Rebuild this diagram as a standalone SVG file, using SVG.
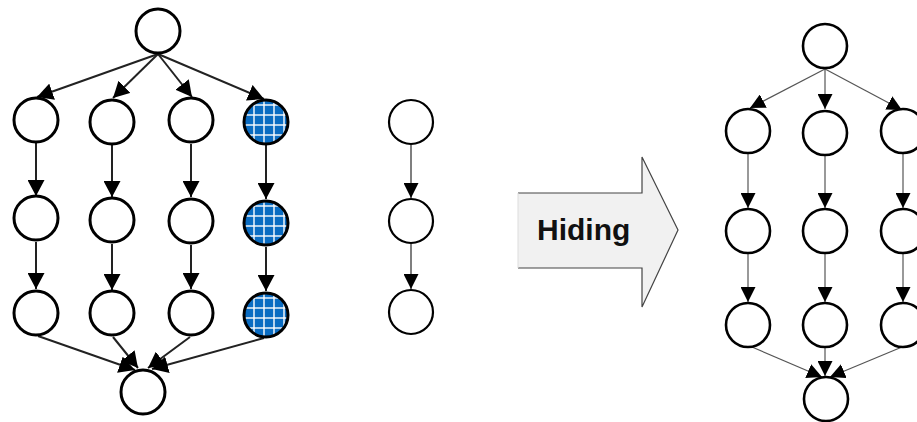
<svg xmlns="http://www.w3.org/2000/svg" width="917" height="422" viewBox="0 0 917 422">
<style>
.nA{fill:#fff;stroke:#000;stroke-width:3}
.nB{fill:url(#grid);stroke:#000;stroke-width:3}
.nM{fill:#fff;stroke:#000;stroke-width:2.2}
.nR{fill:#fff;stroke:#000;stroke-width:2.6}
.eA{stroke:#222;stroke-width:2;fill:none;marker-end:url(#hA)}
.eM{stroke:#555;stroke-width:1.5;fill:none;marker-end:url(#hM)}
.eR{stroke:#555;stroke-width:1.2;fill:none;marker-end:url(#hM)}
.lbl{font-family:"Liberation Sans",Arial,sans-serif;font-weight:bold;font-size:30px;fill:#111}
</style>
<defs>
<pattern id="grid" patternUnits="userSpaceOnUse" width="10" height="10">
<rect width="10" height="10" fill="#0a6cc2"/>
<line x1="8" y1="0" x2="8" y2="10" stroke="#fff" stroke-width="1.4"/>
<line x1="0" y1="3" x2="10" y2="3" stroke="#fff" stroke-width="1.4"/>
</pattern>
<marker id="hA" markerUnits="userSpaceOnUse" markerWidth="17" markerHeight="17" refX="16" refY="8.5" orient="auto">
<path d="M0,0 L16,8.5 L0,17 z" fill="#000"/>
</marker>
<marker id="hM" markerUnits="userSpaceOnUse" markerWidth="15" markerHeight="15" refX="15" refY="7.5" orient="auto">
<path d="M0,0 L15,7.5 L0,15 z" fill="#000"/>
</marker>
</defs>

<g id="connectors">
<!-- left graph -->
<line class="eA" x1="158" y1="54" x2="37" y2="97"/>
<line class="eA" x1="158" y1="54" x2="113" y2="98"/>
<line class="eA" x1="158" y1="54" x2="192" y2="97"/>
<line class="eA" x1="158" y1="54" x2="264" y2="99"/>
<line class="eA" x1="36" y1="143" x2="36" y2="196"/>
<line class="eA" x1="36" y1="242" x2="36" y2="289"/>
<line class="eA" x1="112" y1="145" x2="112" y2="197"/>
<line class="eA" x1="112" y1="244" x2="112" y2="290"/>
<line class="eA" x1="191" y1="144" x2="191" y2="197"/>
<line class="eA" x1="191" y1="245" x2="191" y2="289"/>
<line class="eA" x1="266" y1="145" x2="266" y2="199"/>
<line class="eA" x1="266" y1="247" x2="266" y2="291"/>
<line class="eA" x1="38" y1="336" x2="135" y2="370"/>
<line class="eA" x1="113" y1="337" x2="138" y2="368"/>
<line class="eA" x1="190" y1="337" x2="148" y2="368"/>
<line class="eA" x1="264" y1="338" x2="152" y2="369"/>
<!-- middle chain -->
<line class="eM" x1="411" y1="145" x2="411" y2="198"/>
<line class="eM" x1="411" y1="244" x2="411" y2="289"/>
<!-- right graph -->
<line class="eR" x1="825" y1="69" x2="750" y2="108"/>
<line class="eR" x1="825" y1="69" x2="825" y2="109"/>
<line class="eR" x1="825" y1="69" x2="902" y2="110"/>
<line class="eR" x1="748" y1="154" x2="748" y2="208"/>
<line class="eR" x1="748" y1="254" x2="748" y2="302"/>
<line class="eR" x1="825" y1="156" x2="825" y2="208"/>
<line class="eR" x1="825" y1="254" x2="825" y2="302"/>
<line class="eR" x1="903" y1="154" x2="903" y2="208"/>
<line class="eR" x1="903" y1="254" x2="903" y2="302"/>
<line class="eR" x1="752" y1="347" x2="822" y2="377"/>
<line class="eR" x1="825" y1="348" x2="825" y2="376"/>
<line class="eR" x1="902" y1="347" x2="830" y2="377"/>
</g>

<!-- left graph nodes -->
<g id="L-top"><circle class="nA" cx="158" cy="31" r="22"/></g>
<g id="L-a1"><circle class="nA" cx="36" cy="120" r="22"/></g>
<g id="L-b1"><circle class="nA" cx="112" cy="122" r="22"/></g>
<g id="L-c1"><circle class="nA" cx="191" cy="120" r="22"/></g>
<g id="L-d1" transform="translate(266,122)"><circle class="nB" cx="0" cy="0" r="22"/></g>
<g id="L-a2"><circle class="nA" cx="36" cy="218" r="22"/></g>
<g id="L-b2"><circle class="nA" cx="112" cy="220" r="22"/></g>
<g id="L-c2"><circle class="nA" cx="191" cy="221" r="22"/></g>
<g id="L-d2" transform="translate(266,223)"><circle class="nB" cx="0" cy="0" r="22"/></g>
<g id="L-a3"><circle class="nA" cx="36" cy="313" r="22"/></g>
<g id="L-b3"><circle class="nA" cx="112" cy="313" r="22"/></g>
<g id="L-c3"><circle class="nA" cx="191" cy="313" r="22"/></g>
<g id="L-d3" transform="translate(266,315)"><circle class="nB" cx="0" cy="0" r="22"/></g>
<g id="L-bottom"><circle class="nA" cx="143" cy="392" r="22"/></g>

<!-- middle chain -->
<g id="M-1"><circle class="nM" cx="411" cy="122" r="22"/></g>
<g id="M-2"><circle class="nM" cx="411" cy="221" r="22"/></g>
<g id="M-3"><circle class="nM" cx="411" cy="312" r="22"/></g>

<!-- hiding arrow -->
<g id="hiding-arrow">
<polygon points="518,193 642,193 642,157 678,230 642,307 642,268 518,268" fill="#f1f1f1"/>
<polyline points="518,193 642,193 642,157 678,230 642,307 642,268 518,268" fill="none" stroke="#444" stroke-width="1.2"/>
<line x1="518" y1="193" x2="518" y2="268" stroke="#ddd" stroke-width="1"/>
<text class="lbl" x="537" y="240">Hiding</text>
</g>

<!-- right graph nodes -->
<g id="R-top"><circle class="nR" cx="825" cy="46" r="22"/></g>
<g id="R-a1"><circle class="nR" cx="748" cy="131" r="22"/></g>
<g id="R-b1"><circle class="nR" cx="825" cy="133" r="22"/></g>
<g id="R-c1"><circle class="nR" cx="903" cy="131" r="22"/></g>
<g id="R-a2"><circle class="nR" cx="748" cy="231" r="22"/></g>
<g id="R-b2"><circle class="nR" cx="825" cy="231" r="22"/></g>
<g id="R-c2"><circle class="nR" cx="903" cy="231" r="22"/></g>
<g id="R-a3"><circle class="nR" cx="748" cy="325" r="22"/></g>
<g id="R-b3"><circle class="nR" cx="825" cy="325" r="22"/></g>
<g id="R-c3"><circle class="nR" cx="903" cy="325" r="22"/></g>
<g id="R-bottom"><circle class="nR" cx="826" cy="399" r="22"/></g>
</svg>
